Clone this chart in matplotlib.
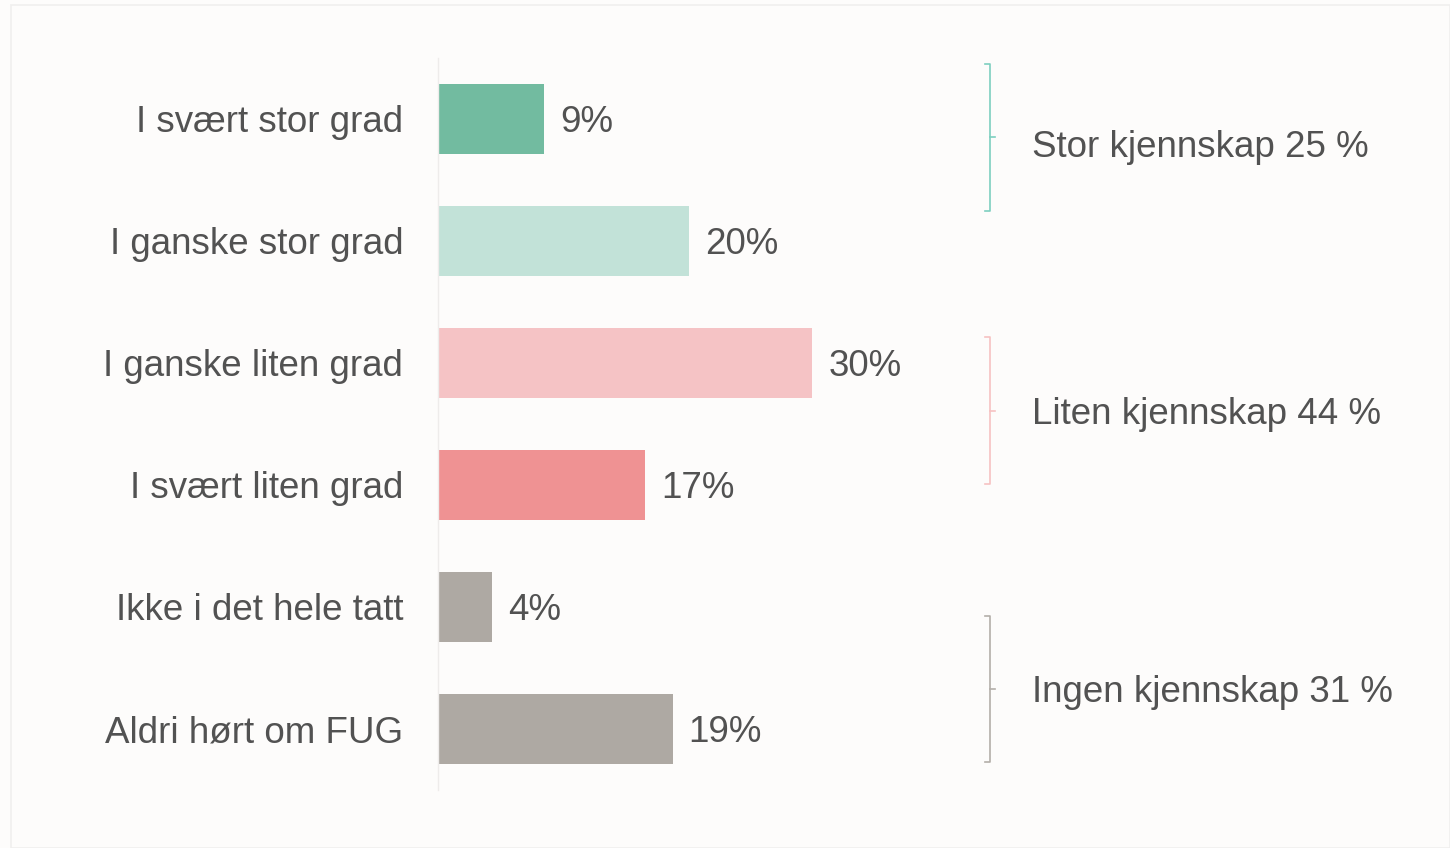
import matplotlib.pyplot as plt
import matplotlib.transforms as mtransforms
from matplotlib.patches import Rectangle

plt.rcParams['font.family'] = ['Liberation Sans', 'DejaVu Sans']

categories = ["I svært stor grad", "I ganske stor grad", "I ganske liten grad",
              "I svært liten grad", "Ikke i det hele tatt", "Aldri hørt om FUG"]
values = [8.5, 20.1, 30.0, 16.6, 4.3, 18.8]
value_labels = ["9%", "20%", "30%", "17%", "4%", "19%"]
bar_colors = ["#72bba0", "#c2e2d8", "#f5c3c5", "#ef9293", "#aea9a3", "#aea9a3"]

group_labels = ["Stor kjennskap 25 %", "Liten kjennskap 44 %", "Ingen kjennskap 31 %"]
group_spans = [(-0.45, 0.75), (1.79, 2.99), (4.07, 5.27)]
group_label_y = [0.2, 2.39, 4.67]
group_colors = ["#7dcfbf", "#f6c2c2", "#b3aea9"]

BG = "#fdfcfb"
TXT = "#525252"
FS = 26.5

W, H = 1450, 848
fig = plt.figure(figsize=(W / 100, H / 100), dpi=100, facecolor=BG)

# light frame behind everything
fig.patches.append(Rectangle((11 / W, 0), (W - 11) / W, (H - 5) / H, transform=fig.transFigure,
                             facecolor=BG, edgecolor="#f0efee", linewidth=1.2, zorder=-10))

ax = fig.add_axes([438 / W, (H - 790) / H, 499 / W, 732 / H])
ax.set_facecolor("none")
ypos = list(range(len(categories)))
ax.barh(ypos, values, height=0.57, color=bar_colors)
ax.set_xlim(0, 40)
ax.set_ylim(5.5, -0.5)
ax.set_yticks(ypos)
ax.set_yticklabels(categories, fontsize=FS, color=TXT)
ax.tick_params(axis="y", length=0, pad=25)
ax.set_xticks([])
for s in ["top", "right", "bottom"]:
    ax.spines[s].set_visible(False)
ax.spines["left"].set_color("#eeeceb")
ax.spines["left"].set_linewidth(1)

off = mtransforms.offset_copy(ax.transData, fig=fig, x=16, y=0, units="dots")
for y, v, lab in zip(ypos, values, value_labels):
    ax.text(v, y, lab, transform=off, ha="left", va="center_baseline", fontsize=FS, color=TXT)

# brackets
tr = mtransforms.blended_transform_factory(ax.transAxes, ax.transData)
bx = (990 - 438) / 499
tick = 5 / 499
for (y0, y1), ly, lab, c in zip(group_spans, group_label_y, group_labels, group_colors):
    ym = (y0 + y1) / 2
    ax.plot([bx - tick, bx, bx, bx - tick], [y0, y0, y1, y1], color=c, lw=1.2,
            transform=tr, clip_on=False)
    ax.plot([bx, bx + tick], [ym, ym], color=c, lw=1.2, transform=tr, clip_on=False)
    ax.text((1032 - 438) / 499, ly, lab, transform=tr, ha="left", va="center_baseline",
            fontsize=FS, color=TXT)

fig.savefig("out.png", dpi=100, facecolor=BG)
